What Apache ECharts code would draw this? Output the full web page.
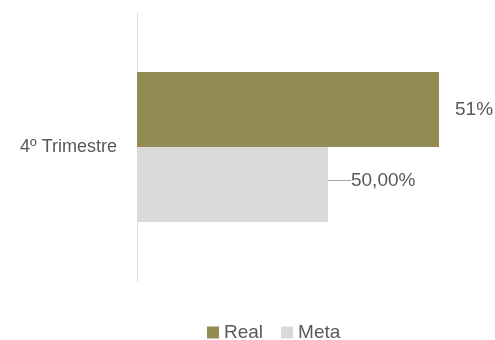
<!DOCTYPE html>
<html>
<head>
<meta charset="utf-8">
<script src="https://cdn.jsdelivr.net/npm/echarts@6/dist/echarts.min.js"></script>
<style>
  html, body { margin: 0; padding: 0; background: #fff; }
  #chart { width: 495px; height: 340px; }
</style>
</head>
<body>
<div id="chart"></div>
<script>
// Quarter result vs. target
const categories = ['4º Trimestre'];
const realValues = [51];
const metaValues = [50];
const seriesNames = ['Real', 'Meta'];

const FONT = '"Liberation Sans", Arial, sans-serif';
const TEXT = '#595959';

const chart = echarts.init(document.getElementById('chart'), null, { renderer: 'canvas' });

chart.setOption({
  animation: false,
  backgroundColor: '#ffffff',
  textStyle: { fontFamily: FONT, color: TEXT },
  legend: {
    data: seriesNames,
    top: 318,
    left: 202,
    itemWidth: 12,
    itemHeight: 12,
    itemGap: 18,
    icon: 'rect',
    textStyle: { fontFamily: FONT, fontSize: 19, color: TEXT }
  },
  grid: { left: 137, right: 56, top: 13, bottom: 59 },
  xAxis: {
    type: 'value',
    min: 48.28,
    max: 51,
    show: false
  },
  yAxis: {
    type: 'category',
    data: categories,
    inverse: true,
    axisLine: { show: true, lineStyle: { color: '#d9d9d9', width: 1 } },
    axisTick: { show: false },
    axisLabel: { fontFamily: FONT, fontSize: 18, color: TEXT, margin: 20 }
  },
  series: [
    {
      name: 'Real',
      type: 'bar',
      data: realValues,
      barWidth: 75,
      barGap: '0%',
      itemStyle: { color: '#948a54' },
      label: {
        show: true,
        position: 'right',
        distance: 16,
        fontFamily: FONT,
        fontSize: 19,
        color: TEXT,
        formatter: (p) => p.value.toFixed(0) + '%'
      }
    },
    {
      name: 'Meta',
      type: 'bar',
      data: metaValues,
      barWidth: 75,
      barGap: '0%',
      itemStyle: { color: '#d9d9d9' },
      label: {
        show: true,
        position: 'right',
        distance: 5,
        fontFamily: FONT,
        fontSize: 19,
        color: TEXT,
        formatter: (p) => p.value.toFixed(2).replace('.', ',') + '%'
      },
      labelLayout: { dx: 18, dy: -4 },
      labelLine: { show: true, length2: 4, lineStyle: { color: '#a6a6a6', width: 1 } }
    }
  ]
});
</script>
</body>
</html>
